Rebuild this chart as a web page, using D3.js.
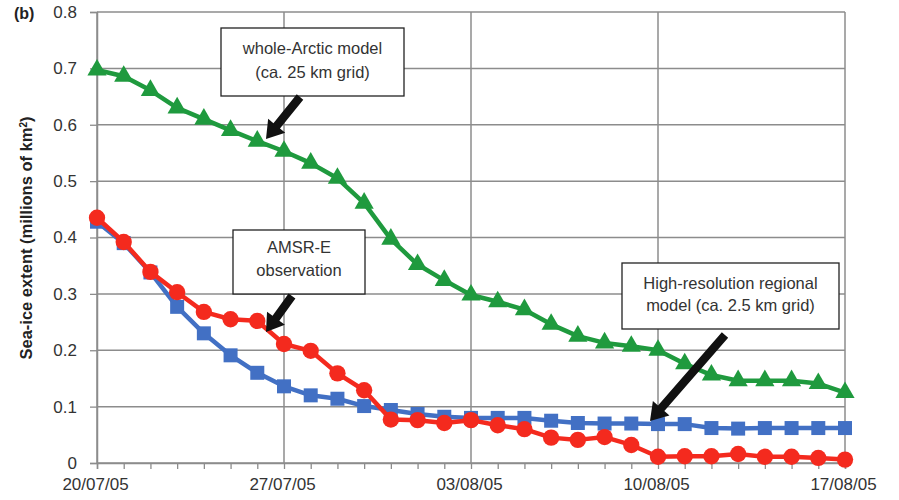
<!DOCTYPE html>
<html><head><meta charset="utf-8">
<script src="https://cdn.jsdelivr.net/npm/d3@7"></script>
<style>body{margin:0;background:#fff}svg{display:block}</style>
</head><body><svg id="c" width="899" height="500"></svg>
<script>
const startDate = "2005-07-20";
const nDays = 29;
const xTickLabels = ["20/07/05","27/07/05","03/08/05","10/08/05","17/08/05"];
const yTicks = [0,0.1,0.2,0.3,0.4,0.5,0.6,0.7,0.8];
const wholeArctic = [0.697,0.686,0.661,0.630,0.610,0.590,0.571,0.553,0.532,0.505,0.461,0.397,0.352,0.324,0.298,0.286,0.272,0.246,0.225,0.213,0.207,0.200,0.176,0.156,0.146,0.146,0.146,0.141,0.125];
const highRes = [0.428,0.390,0.338,0.277,0.230,0.191,0.160,0.136,0.120,0.114,0.101,0.094,0.087,0.082,0.080,0.080,0.080,0.075,0.071,0.070,0.070,0.069,0.069,0.062,0.061,0.062,0.062,0.062,0.062];
const amsre = [0.435,0.392,0.339,0.303,0.268,0.255,0.252,0.211,0.199,0.159,0.129,0.077,0.076,0.071,0.076,0.067,0.060,0.045,0.041,0.046,0.032,0.011,0.012,0.012,0.016,0.011,0.011,0.009,0.006];

const svg = d3.select("#c");
const m = {l:97, r:54, t:12, b:37};
const W = 899, H = 500;
const t0 = d3.utcParse("%Y-%m-%d")(startDate);
const days = d3.range(nDays).map(i => d3.utcDay.offset(t0, i));
const x = d3.scaleUtc().domain([days[0], days[nDays-1]]).range([m.l, W - m.r]);
const y = d3.scaleLinear().domain([0, 0.8]).range([H - m.b, m.t]);
const grid = "#8c8c8c";
const font = "'Liberation Sans', Arial, sans-serif";

// horizontal grid
svg.append("g").selectAll("line").data(yTicks).join("line")
  .attr("x1", m.l).attr("x2", W - m.r)
  .attr("y1", d => y(d)).attr("y2", d => y(d))
  .attr("stroke", grid).attr("stroke-width", 1.5);
// vertical grid (weekly)
const weekDays = d3.range(0, nDays, 7).map(i => days[i]);
svg.append("g").selectAll("line").data(weekDays).join("line")
  .attr("x1", d => x(d)).attr("x2", d => x(d))
  .attr("y1", m.t).attr("y2", H - m.b)
  .attr("stroke", grid).attr("stroke-width", 1.5);

// x axis
const xAxis = d3.axisBottom(x).tickValues(days).tickSize(6).tickFormat((d,i) => i % 7 === 0 ? xTickLabels[i/7] : "");
const gx = svg.append("g").attr("transform", `translate(0,${H - m.b})`).call(xAxis);
gx.select(".domain").attr("stroke", grid).attr("stroke-width", 1.5);
gx.selectAll(".tick line").attr("stroke", grid).attr("stroke-width", 1.3);
gx.selectAll("text").attr("font-family", font).attr("font-size", 17).attr("fill", "#333").attr("y", 27).attr("dy", 0).attr("dx", -2);

// y axis
const yAxis = d3.axisLeft(y).tickValues(yTicks).tickSize(7).tickFormat(d => d === 0 ? "0" : d3.format(".1f")(d));
const gy = svg.append("g").attr("transform", `translate(${m.l},0)`).call(yAxis);
gy.select(".domain").attr("stroke", grid).attr("stroke-width", 1.5);
gy.selectAll(".tick line").attr("stroke", grid).attr("stroke-width", 1.3);
gy.selectAll("text").attr("font-family", font).attr("font-size", 17).attr("fill", "#333").attr("x", -20);

// y label
const yl = svg.append("text").attr("transform", `translate(32,238) rotate(-90)`)
  .attr("text-anchor", "middle").attr("font-family", font).attr("font-size", 16.5).attr("font-weight", "bold").attr("fill", "#222");
yl.append("tspan").text("Sea-ice extent (millions of km");
yl.append("tspan").attr("baseline-shift", "super").attr("font-size", 10).text("2");
yl.append("tspan").text(")");
svg.append("text").attr("x", 14).attr("y", 19).attr("font-family", font).attr("font-size", 16).attr("font-weight", "bold").attr("fill", "#222").text("(b)");

const series = [
  {vals: wholeArctic, color: "#1f9a3e", shape: "tri"},
  {vals: highRes, color: "#4270c4", shape: "sq"},
  {vals: amsre, color: "#f42a1e", shape: "circ"}
];
const line = d3.line().x((d,i) => x(days[i])).y(d => y(d));
series.forEach(s => {
  const g = svg.append("g");
  g.append("path").datum(s.vals).attr("d", line).attr("fill", "none").attr("stroke", s.color).attr("stroke-width", 4.5).attr("stroke-linejoin", "round");
  const pts = g.selectAll(".p").data(s.vals).join("path")
    .attr("transform", (d,i) => `translate(${x(days[i])},${y(d)})`)
    .attr("fill", s.color);
  if (s.shape === "tri") pts.attr("d", d3.symbol(d3.symbolTriangle, 160)());
  else if (s.shape === "sq") pts.attr("d", d3.symbol(d3.symbolSquare, 196)());
  else pts.attr("d", d3.symbol(d3.symbolCircle, 210)());
});

// annotations
function arrow(x1, y1, x2, y2) {
  const dx = x2 - x1, dy = y2 - y1, L = Math.hypot(dx, dy);
  const ux = dx / L, uy = dy / L, px = -uy, py = ux;
  const hw = 4.2, hh = 11, hl = 17;
  const bx = x2 - ux * hl, by = y2 - uy * hl;
  const p = [
    [x1 + px*hw, y1 + py*hw], [bx + px*hw, by + py*hw], [bx + px*hh, by + py*hh],
    [x2, y2], [bx - px*hh, by - py*hh], [bx - px*hw, by - py*hw], [x1 - px*hw, y1 - py*hw]
  ];
  svg.append("path").attr("d", "M" + p.map(q => q.join(",")).join("L") + "Z").attr("fill", "#111");
}
const notes = [
  {box:[221,28,183,68], lines:["whole-Arctic model","(ca. 25 km grid)"], ly:[54,78], arrow:[300,97,266,139]},
  {box:[233,230,132,64], lines:["AMSR-E","observation"], ly:[253,276], arrow:[292,296,266,332]},
  {box:[622,263,217,66], lines:["High-resolution regional","model (ca. 2.5 km grid)"], ly:[289,311], arrow:[725,335,650,421]}
];
notes.forEach(n => {
  svg.append("rect").attr("x", n.box[0]).attr("y", n.box[1]).attr("width", n.box[2]).attr("height", n.box[3])
    .attr("fill", "#fff").attr("stroke", "#222").attr("stroke-width", 1.3);
  n.lines.forEach((t, i) => svg.append("text").attr("x", n.box[0] + n.box[2]/2).attr("y", n.ly[i])
    .attr("text-anchor", "middle").attr("font-family", font).attr("font-size", 16.5).attr("fill", "#333").text(t));
  arrow(...n.arrow);
});
</script></body></html>
